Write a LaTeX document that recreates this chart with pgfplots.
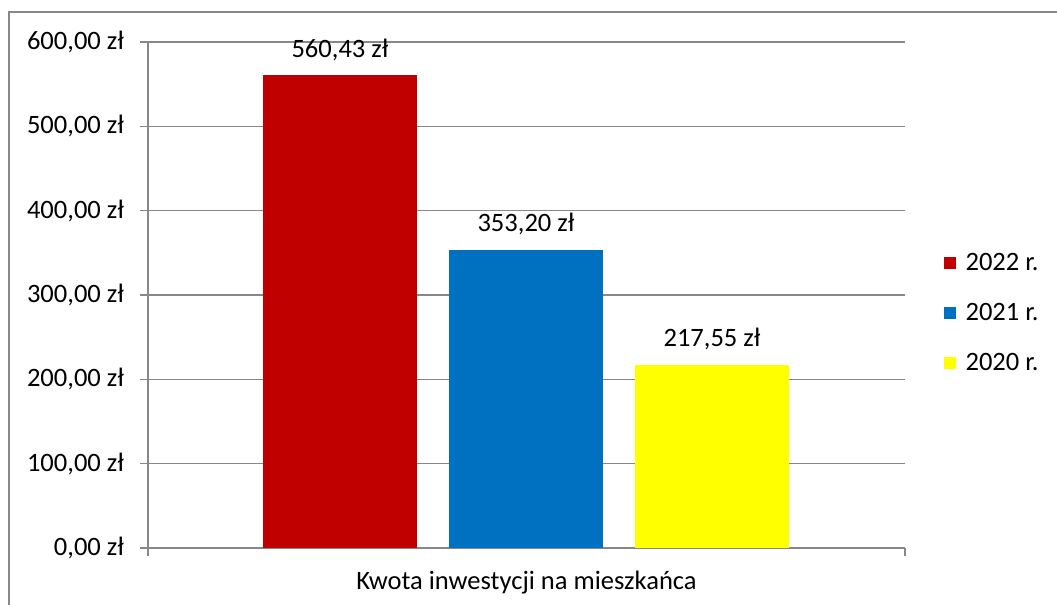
\documentclass[border=0pt]{standalone}
\usepackage{pgfplots}
\pgfplotsset{compat=1.18}
\usepackage{fontspec}
\setmainfont{Carlito}
\definecolor{c22}{HTML}{C00000}
\definecolor{c21}{HTML}{0070C0}
\definecolor{c20}{HTML}{FFFF00}
\definecolor{gridc}{HTML}{888888}
\begin{document}
\begin{tikzpicture}
\useasboundingbox (-111pt,-42.75pt) rectangle (681.75pt,411pt);
\draw[gridc, line width=0.9pt] (-104.25pt,-50pt) -- (-104.25pt,402pt) -- (690pt,402pt);
\begin{axis}[
  at={(0,0)}, anchor=south west,
  scale only axis, width=567.75pt, height=379.5pt,
  xmin=0, xmax=757, ymin=0, ymax=600,
  clip=false,
  font=\fontsize{19.9}{23.9}\selectfont,
  axis lines*=left,
  axis line style={gridc, line width=0.9pt, -},
  xtick={0,757}, xticklabels={,},
  ytick={0,100,200,300,400,500,600},
  yticklabels={{0,00 zł},{100,00 zł},{200,00 zł},{300,00 zł},{400,00 zł},{500,00 zł},{600,00 zł}},
  yticklabel style={xshift=-8.5pt},
  tick align=outside, major tick length=6pt,
  tick style={gridc, line width=0.9pt},
  ymajorgrids, grid style={gridc, line width=0.9pt},
  xlabel={Kwota inwestycji na mieszkańca},
  xlabel style={at={(axis description cs:0.5,0)}, anchor=center, yshift=-26.25pt},
  legend style={draw=none, at={(axis description cs:1.0462,0.4644)}, anchor=west,
    row sep=19pt, cells={anchor=west}, font=\fontsize{19.9}{23.9}\selectfont,
    /tikz/every odd column/.append style={column sep=5pt}},
  every node near coord/.append style={font=\fontsize{19.9}{23.9}\selectfont, yshift=7.6pt},
]
\addplot[ybar, bar shift=0pt, bar width=154, fill=c22, draw=none,
  nodes near coords={560,43 zł},
  legend image code/.code={\fill[c22] (0pt,-4.5pt) rectangle (9pt,4.5pt);}]
  coordinates {(192,560.43)};
\addlegendentry{2022 r.}
\addplot[ybar, bar shift=0pt, bar width=154, fill=c21, draw=none,
  nodes near coords={353,20 zł},
  legend image code/.code={\fill[c21] (0pt,-4.5pt) rectangle (9pt,4.5pt);}]
  coordinates {(378,353.20)};
\addlegendentry{2021 r.}
\addplot[ybar, bar shift=0pt, bar width=154, fill=c20, draw=none,
  nodes near coords={217,55 zł},
  legend image code/.code={\fill[c20] (0pt,-4.5pt) rectangle (9pt,4.5pt);}]
  coordinates {(564,217.55)};
\addlegendentry{2020 r.}
\end{axis}
\end{tikzpicture}
\end{document}
